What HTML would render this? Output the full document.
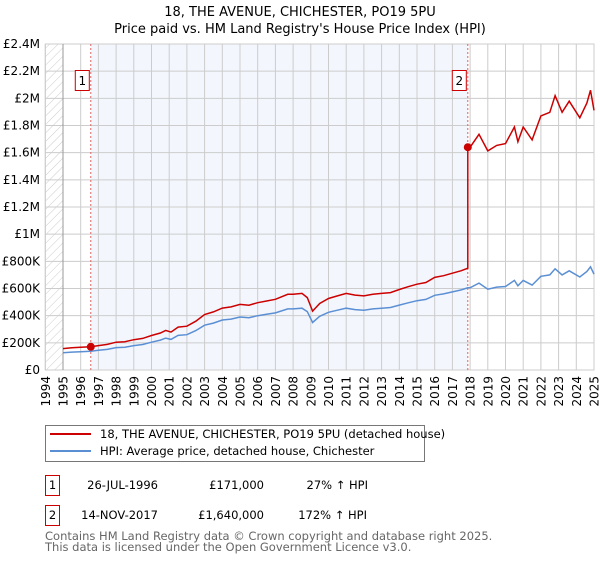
<!DOCTYPE html>
<html><head><meta charset="utf-8"><style>
body{margin:0;background:#fff;font-family:"Liberation Sans","DejaVu Sans",sans-serif}
svg text{font-family:"DejaVu Sans","Liberation Sans",sans-serif}
</style></head><body>
<svg id="c" width="600" height="560" xmlns="http://www.w3.org/2000/svg">
<defs><pattern id="hatch" width="6" height="6" patternUnits="userSpaceOnUse" patternTransform="rotate(45)"><line x1="0" y1="0" x2="0" y2="6" stroke="#ccc" stroke-width="1"/></pattern></defs>
<text x="300" y="16" text-anchor="middle" font-size="13">18, THE AVENUE, CHICHESTER, PO19 5PU</text>
<text x="300" y="33" text-anchor="middle" font-size="13">Price paid vs. HM Land Registry's House Price Index (HPI)</text>
<g id="plot"></g>
<g>
<rect x="45.5" y="425.5" width="379" height="36" fill="#fff" stroke="#777"/>
<line x1="50" y1="434" x2="91" y2="434" stroke="#cc0000" stroke-width="2"/>
<text x="100" y="438" font-size="11.5">18, THE AVENUE, CHICHESTER, PO19 5PU (detached house)</text>
<line x1="50" y1="451" x2="91" y2="451" stroke="#5b8fd4" stroke-width="2"/>
<text x="100" y="455" font-size="11.5">HPI: Average price, detached house, Chichester</text>
</g>
<g font-size="11.5">
<rect x="45.5" y="475.5" width="14" height="20" fill="#fff" stroke="#cc0000"/><text x="52.5" y="489" text-anchor="middle">1</text>
<text x="158" y="489" text-anchor="end">26-JUL-1996</text><text x="264" y="489" text-anchor="end">£171,000</text><text x="368" y="489" text-anchor="end">27% ↑ HPI</text>
<rect x="45.5" y="505.5" width="14" height="20" fill="#fff" stroke="#cc0000"/><text x="52.5" y="519" text-anchor="middle">2</text>
<text x="158" y="519" text-anchor="end">14-NOV-2017</text><text x="264" y="519" text-anchor="end">£1,640,000</text><text x="367" y="519" text-anchor="end">172% ↑ HPI</text>
</g>
<text x="45" y="540" font-size="11.5" fill="#666">Contains HM Land Registry data © Crown copyright and database right 2025.</text>
<text x="45" y="551" font-size="11.5" fill="#666">This data is licensed under the Open Government Licence v3.0.</text>
</svg>
<script>
const hpiYears=[1995,1995.5,1996,1996.57,1997,1997.5,1998,1998.5,1999,1999.5,2000,2000.5,2000.8,2001.1,2001.5,2002,2002.5,2003,2003.5,2004,2004.5,2005,2005.5,2006,2006.5,2007,2007.7,2008,2008.5,2008.8,2009.1,2009.5,2010,2010.5,2011,2011.5,2012,2012.5,2013,2013.5,2014,2014.5,2015,2015.5,2016,2016.5,2017,2017.5,2017.87,2018,2018.5,2019,2019.5,2020,2020.5,2020.7,2021,2021.5,2022,2022.5,2022.8,2023.2,2023.6,2024.2,2024.6,2024.8,2025];
const hpiValues=[127,132,135,138,145,152,165,168,180,188,205,220,235,225,255,260,290,330,345,368,375,390,385,400,410,420,450,450,455,430,350,395,425,440,455,445,440,450,455,460,478,495,510,520,550,560,575,590,605,605,640,595,610,615,660,620,660,625,690,700,745,700,730,685,725,760,705];
const saleYears=[1996.57,2017.87];
const salePrices=[171,1640];
const yTicks=[0,200,400,600,800,1000,1200,1400,1600,1800,2000,2200,2400];
const yTickLabels=["£0","£200K","£400K","£600K","£800K","£1M","£1.2M","£1.4M","£1.6M","£1.8M","£2M","£2.2M","£2.4M"];
const xTicks=[1994,1995,1996,1997,1998,1999,2000,2001,2002,2003,2004,2005,2006,2007,2008,2009,2010,2011,2012,2013,2014,2015,2016,2017,2018,2019,2020,2021,2022,2023,2024,2025];
const X0=45.3,X1=594,Y0=370,Y1=44;
const xs=y=>X0+(y-1994)/(2025-1994)*(X1-X0);
const ys=v=>Y0-v/2400*(Y0-Y1);
const NS="http://www.w3.org/2000/svg";
const g=document.getElementById('plot');
function mk(t,a,p){const e=document.createElementNS(NS,t);for(const k in a)e.setAttribute(k,a[k]);(p||g).appendChild(e);return e;}
let e;
e=mk('rect',{x:X0,y:Y1,width:xs(1995)-X0,height:Y0-Y1,fill:'url(#hatch)'});


e=mk('rect',{x:xs(saleYears[0]),y:Y1,width:xs(saleYears[1])-xs(saleYears[0]),height:Y0-Y1,fill:'#f0f5fd',opacity:0.8});


yTicks.forEach((t,i)=>{
 e=mk('line',{x1:X0,x2:X1,y1:ys(t),y2:ys(t),stroke:'#ccc'});
 
 
 e=mk('text',{x:40,y:ys(t)+4,'text-anchor':'end','font-size':12});
 e.textContent=yTickLabels[i];
 
 
});
xTicks.forEach(t=>{
 e=mk('line',{x1:xs(t),x2:xs(t),y1:Y1,y2:Y0,stroke:'#ccc'});
 
 
 e=mk('text',{x:0,y:0,'text-anchor':'end','font-size':12,transform:`translate(${xs(t)+4.5},${Y0+6}) rotate(-90)`});
 e.textContent=t;
 
 
});
e=mk('rect',{x:X0,y:Y1,width:X1-X0,height:Y0-Y1,fill:'none',stroke:'#ccc'});


e=mk('line',{x1:xs(1995),x2:xs(1995),y1:Y1,y2:Y0,stroke:'#999'});


saleYears.forEach((y,i)=>{
 e=mk('line',{x1:xs(y),x2:xs(y),y1:Y1,y2:Y0,stroke:'#e06060','stroke-dasharray':'2,2'});
 
 
});
// HPI line
let d=hpiYears.map((y,i)=>(i?'L':'M')+xs(y).toFixed(1)+','+ys(hpiValues[i]).toFixed(1)).join('');
e=mk('path',{d:d,fill:'none',stroke:'#5b8fd4','stroke-width':1.5});


// property line indexed to HPI from last sale
function hpiAt(y){for(let i=1;i<hpiYears.length;i++){if(y<=hpiYears[i]){const f=(y-hpiYears[i-1])/(hpiYears[i]-hpiYears[i-1]);return hpiValues[i-1]+f*(hpiValues[i]-hpiValues[i-1]);}}return hpiValues[hpiValues.length-1];}
let pts=[];
hpiYears.forEach((y,i)=>{
 let v;
 if(y<saleYears[1]) v=salePrices[0]*hpiValues[i]/hpiAt(saleYears[0]);
 else v=salePrices[1]*hpiValues[i]/hpiAt(saleYears[1]);
 if(y===saleYears[1]) pts.push([y,salePrices[0]*hpiValues[i]/hpiAt(saleYears[0])]);
 pts.push([y,v]);
});
d=pts.map((p,i)=>(i?'L':'M')+xs(p[0]).toFixed(1)+','+ys(p[1]).toFixed(1)).join('');
e=mk('path',{d:d,fill:'none',stroke:'#cc0000','stroke-width':1.5});


saleYears.forEach((y,i)=>{
 e=mk('circle',{cx:xs(y),cy:ys(salePrices[i]),r:4,fill:'#cc0000'});
 
 
 e=mk('rect',{x:xs(y)-15.5,y:70.5,width:14,height:20,fill:'#fff',stroke:'#cc0000'});
 
 
 e=mk('text',{x:xs(y)-8.5,y:85,'text-anchor':'middle','font-size':12});
 e.textContent=String(i+1);
 
 
});
</script>
</body></html>
